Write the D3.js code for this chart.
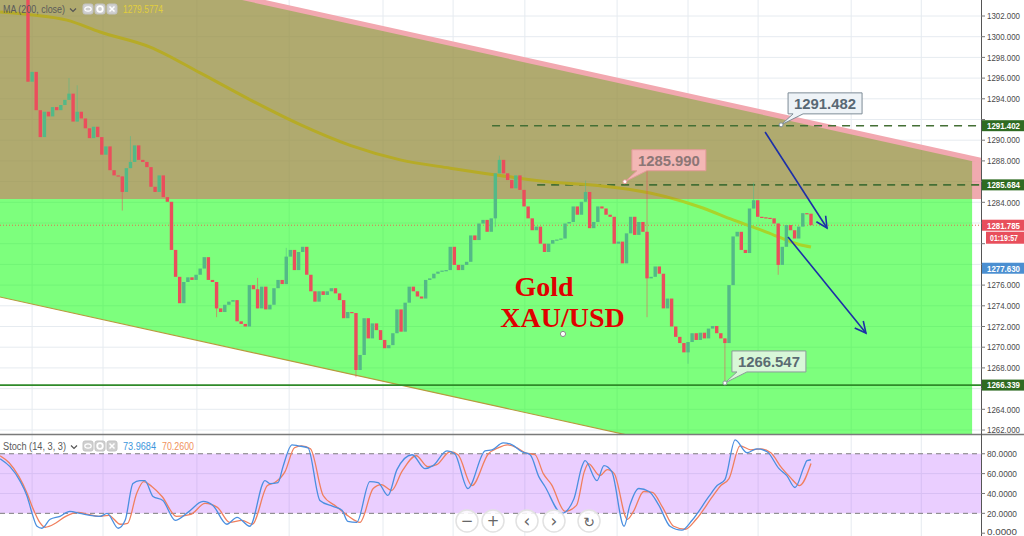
<!DOCTYPE html>
<html><head><meta charset="utf-8">
<script src="https://cdn.jsdelivr.net/npm/d3@7"></script>
<style>html,body{margin:0;padding:0;background:#fff;overflow:hidden}svg{display:block}</style>
</head><body><svg id="c" width="1024" height="536"></svg>
<script>
// ---------------- DATA ----------------
const firstOpen = 1303.8;
const closes = [
1295.65,1296.6,1292.9,1290.3,1292.75,1292.3,1293.2,1292.9,1293.4,1293.9,
1294.5,1291.8,1292.75,1292.1,1291.15,1290.2,1291.3,1290.3,1288.6,1289.4,
1287.1,1286.6,1286.5,1285.0,1287.3,1287.9,1289.5,1288.1,1287.9,1287.4,
1285.5,1285.0,1286.6,1284.5,1284.05,1279.4,1276.8,1274.25,1276.3,1276.75,
1276.5,1277.0,1277.6,1278.7,1276.5,1276.3,1273.75,1273.4,1274.1,1274.4,
1274.55,1272.5,1272.25,1272.0,1276.0,1275.6,1273.75,1275.85,1273.65,1274.1,
1275.7,1276.5,1276.1,1278.75,1279.4,1277.45,1279.2,1279.7,1277.0,1275.4,
1274.4,1275.4,1275.05,1275.4,1275.7,1275.2,1274.55,1272.8,1273.4,1273.3,
1267.8,1269.25,1272.8,1270.85,1272.3,1271.65,1270.7,1269.9,1270.2,1271.35,
1273.65,1271.5,1274.3,1275.85,1275.4,1274.9,1274.7,1276.5,1276.65,1277.1,
1277.3,1277.4,1277.45,1279.7,1277.95,1277.45,1277.95,1278.25,1280.8,1280.35,
1281.95,1282.3,1281.15,1282.45,1286.8,1288.1,1286.8,1286.15,1285.35,1286.6,
1285.2,1283.6,1282.45,1281.3,1281.65,1280.0,1279.2,1280.0,1280.35,1280.4,
1280.5,1281.95,1282.1,1283.6,1282.8,1284.05,1285.0,1281.5,1282.1,1283.6,
1283.4,1282.8,1282.6,1280.0,1280.2,1278.1,1281.0,1282.6,1280.85,1282.1,
1281.15,1276.65,1276.8,1277.8,1277.1,1273.75,1274.7,1272.0,1271.0,1270.4,
1269.5,1270.5,1271.35,1270.7,1271.4,1270.85,1271.8,1272.05,1271.35,1270.85,
1270.4,1276.0,1280.7,1281.15,1279.4,1279.1,1283.4,1284.2,1282.6,1282.55,
1282.5,1282.45,1281.95,1277.95,1279.7,1281.8,1281.3,1280.5,1281.65,1282.95,
1282.9,1281.785];
// notable wicks: [bar index, high, low] (null = body edge)
const wicks = [[10,1296.0,null],[12,1295.3,null],[25,1290.4,null],[23,null,1283.2],[46,null,1272.9],
[56,1276.7,null],[63,1279.6,null],[80,null,1267.1],[114,null,1281.6],[115,1288.5,null],[136,1286.1,null],
[151,1287.1,1272.9],[161,null,1268.4],[170,null,1266.55],[177,1285.9,null],[183,null,1277.0]];
// MA(200) read points [bar index, price]
const maPoints = [[-6.8,1302.39],[1.2,1302.1],[9.5,1301.6],[17.6,1300.45],[29.8,1299.0],[42.0,1296.5],
[54.2,1293.9],[66.4,1291.5],[78.6,1289.5],[90.8,1288.1],[103.0,1287.3],[115.1,1286.6],[127.3,1285.95],
[139.5,1285.6],[151.7,1284.9],[163.9,1283.55],[172.0,1282.3],[180.3,1281.1],[188.3,1279.9],[191.0,1279.68]];
// Stochastic %K and %D [bar index, value]
const stochK = [[-6.8,75],[-4.4,67],[-2.0,53],[-0.2,37],[1.0,20],[2.2,7],[3.4,5],[5.4,14],[7.8,17],[10.2,22],
[12.7,20],[15.1,18],[17.6,17],[19.3,20],[22.0,5],[23.7,13],[25.6,50],[27.3,53],[28.5,53],[30.5,37],[32.9,33],
[35.9,13],[39.0,21],[42.7,32],[45.1,28],[48.5,9],[51.0,16],[54.1,7],[57.8,53],[59.0,50],[61.0,51],[62.2,67],
[64.4,89],[65.9,88],[68.3,86],[71.2,33],[74.4,27],[76.6,23],[78.0,12],[80.2,11],[83.4,52],[85.4,51],[87.8,38],
[90.0,64],[93.7,79],[96.8,65],[98.8,68],[102.2,83],[104.1,80],[107.3,45],[111.5,83],[113.2,84],[115.9,91],
[118.1,89],[120.5,82],[122.5,79],[124.6,57],[126.1,47],[130.2,20],[133.2,35],[135.1,67],[135.9,73],[138.8,53],
[140.5,68],[142.4,62],[145.4,7],[146.8,28],[149.0,45],[151.5,42],[153.9,28],[156.6,7],[159.5,3],[162.0,13],
[166.1,37],[168.1,48],[170.0,54],[172.5,94],[175.4,81],[177.8,85],[180.3,82],[183.2,65],[185.1,58],[187.1,46],
[189.3,67],[190.0,73],[191.0,73.97]];
const stochD = [[-6.8,78],[-4.6,71],[-2.2,57],[-0.3,41],[1.2,25],[2.7,12],[4.2,6],[6.7,10],[9.2,17],[12.2,21],
[14.7,19],[17.2,17],[19.7,18],[22.5,9],[24.3,10],[26.5,40],[28.2,52],[30.2,47],[32.7,37],[36.2,17],[39.7,19],
[43.2,30],[46.2,26],[49.2,11],[52.2,13],[54.7,9],[58.4,48],[60.2,51],[62.7,62],[65.0,86],[66.7,88],[68.9,85],
[72.0,38],[75.2,27],[78.2,17],[81.0,11],[84.2,45],[86.2,49],[88.7,43],[91.2,62],[94.7,78],[97.5,67],[99.7,69],
[103.0,82],[104.9,79],[108.3,48],[112.3,80],[114.7,86],[116.9,89],[119.3,86],[121.3,81],[123.7,79],[125.7,60],
[127.7,49],[131.0,22],[133.8,28],[135.7,62],[136.7,70],[139.5,58],[141.3,64],[143.0,60],[146.2,14],[147.7,22],
[150.2,42],[152.3,41],[154.8,26],[157.5,7],[160.3,4],[163.0,14],[167.0,37],[169.0,48],[171.0,55],[173.7,88],
[176.3,84],[178.7,85],[181.2,81],[183.8,66],[186.0,56],[188.2,48],[191,70.26]];
const priceTicks = [1262,1264,1266,1268,1270,1272,1274,1276,1278,1280,1282,1284,1286,1288,1290,1292,1294,1296,1298,1300,1302];
const stochTicks = [0,20,40,60,80];
const gridTimes = [1.0,18.3,41.2,63.7,86.6,103.7,121.2,143.7,161.0,178.1,200.8,217.9];
const channelUpper = [[59.0,1303.2],[232.2,1288.07]];
const channelLower = [[-6.83,1274.85],[139.5,1262.1]];
const zoneSplit = 1284.32, greenEnd = 230.3, pinkEnd = 232.5;
const dashedLevels = [[1291.402,113.2],[1285.684,124.2]];
const supportLevel = 1266.339;
const lastPrice = 1281.785;
const badges = [[1291.402,"1291.402","#2f6b22"],[1285.684,"1285.684","#2f6b22"],[1281.785,"1281.785","#e84f5c"],
[1277.630,"1277.630","#4b8fd1"],[1266.339,"1266.339","#2f6b22"]];
const countdown = "01:19:57";
const callouts = [[183.7,1291.482,"1291.482","#eef3f7","#7d8b96","#596874"],
[145.6,1285.990,"1285.990","#f3b7b5","#e29a98","#8c7676"],
[170.0,1266.547,"1266.547","#d8f7d8","#8b9a9a","#5b6b72"]];
const arrows = [[[179.8,1290.79],[194.9,1281.52]],[[185.4,1280.65],[204.4,1271.37]]];
const titleLines = [["Gold",125.9,1274.95],["XAU/USD",130.4,1271.95]];
const titleMarker = [130.5,1271.28];
const maLegend = ["MA (200, close)","1279.5774"];
const stochLegend = ["Stoch (14, 3, 3)","73.9684","70.2600"];
const navButtons = ["−","+","‹","›","↻"];

// ---------------- SCALES ----------------
const svg = d3.select("#c");
const W = 1024, H = 536, plotR = 981, mainB = 434;
const x = d3.scaleLinear().domain([0, closes.length-1]).range([28, 811]);
const y = d3.scaleLinear().domain([1262, 1302]).range([430, 16]);
const ys = d3.scaleLinear().domain([0, 100]).range([533.2, 433.9]);
const lineAt = (pts, i) => pts[0][1] + (i-pts[0][0])*(pts[1][1]-pts[0][1])/(pts[1][0]-pts[0][0]);

const defs = svg.append("defs");
defs.append("clipPath").attr("id","mainClip").append("rect").attr("x",0).attr("y",0).attr("width",plotR).attr("height",mainB);
defs.append("clipPath").attr("id","stClip").append("rect").attr("x",0).attr("y",mainB+1).attr("width",plotR).attr("height",H-mainB);
defs.append("clipPath").attr("id","upClip").append("rect").attr("x",0).attr("y",0).attr("width",plotR).attr("height",y(zoneSplit));
defs.append("clipPath").attr("id","loClip").append("rect").attr("x",0).attr("y",y(zoneSplit)).attr("width",plotR).attr("height",mainB-y(zoneSplit));
defs.append("marker").attr("id","ah").attr("markerUnits","userSpaceOnUse").attr("markerWidth",14).attr("markerHeight",14)
  .attr("viewBox","0 0 14 14").attr("refX",12).attr("refY",7).attr("orient","auto")
  .append("path").attr("d","M1,1.5 L12,7 L1,12.5").attr("fill","none").attr("stroke","#1c2fa8").attr("stroke-width",1.6);

svg.append("rect").attr("width",W).attr("height",H).attr("fill","#fff");

// grid
const grid = svg.append("g");
grid.selectAll(".vg").data(gridTimes).join("line").attr("x1",d=>x(d)).attr("x2",d=>x(d)).attr("y1",0).attr("y2",H)
  .attr("stroke","#e6ebf0").attr("stroke-width",1);
grid.selectAll(".hg").data(priceTicks).join("line").attr("x1",0).attr("x2",plotR).attr("y1",d=>y(d)).attr("y2",d=>y(d))
  .attr("stroke","#e6ebf0");
grid.selectAll(".sg").data([40,60]).join("line").attr("x1",0).attr("x2",plotR).attr("y1",d=>ys(d)).attr("y2",d=>ys(d))
  .attr("stroke","#e6ebf0");

// main pane drawings
const main = svg.append("g").attr("clip-path","url(#mainClip)");
const iS = -12;
const poly = pts => pts.map(p=>[x(p[0]),y(p[1])].join(",")).join(" ");
main.append("polygon").attr("points", poly([[iS,lineAt(channelUpper,iS)],[greenEnd,lineAt(channelUpper,greenEnd)],
  [greenEnd,lineAt(channelLower,greenEnd)],[iS,lineAt(channelLower,iS)]])).attr("fill","rgba(0,255,0,0.51)");
main.append("polygon").attr("points", poly([[iS,lineAt(channelUpper,iS)],[pinkEnd,lineAt(channelUpper,pinkEnd)],
  [pinkEnd,zoneSplit],[iS,zoneSplit]])).attr("fill","rgba(226,89,98,0.51)");
main.append("line").attr("x1",x(iS)).attr("y1",y(lineAt(channelUpper,iS))).attr("x2",x(pinkEnd)).attr("y2",y(lineAt(channelUpper,pinkEnd)))
  .attr("stroke","#f2a8b0").attr("stroke-width",5);
main.append("line").attr("x1",x(iS)).attr("y1",y(lineAt(channelLower,iS))).attr("x2",x(160)).attr("y2",y(lineAt(channelLower,160)))
  .attr("stroke","#b79a3c").attr("stroke-width",1.2);

// levels
main.selectAll(".dl").data(dashedLevels).join("line").attr("x1",d=>x(d[1])).attr("x2",plotR).attr("y1",d=>y(d[0])).attr("y2",d=>y(d[0]))
  .attr("stroke","#446f35").attr("stroke-width",1.6).attr("stroke-dasharray","8,6");
main.append("line").attr("x1",0).attr("x2",plotR).attr("y1",y(supportLevel)).attr("y2",y(supportLevel)).attr("stroke","#2f8a2a").attr("stroke-width",1.6);
main.append("line").attr("x1",0).attr("x2",plotR).attr("y1",y(lastPrice)).attr("y2",y(lastPrice))
  .attr("stroke","#e0704f").attr("stroke-width",1).attr("stroke-dasharray","1,2");

// MA line
const maLine = d3.line().x(d=>x(d[0])).y(d=>y(d[1])).curve(d3.curveMonotoneX);
main.append("path").attr("d",maLine(maPoints)).attr("fill","none").attr("stroke","#b6ab27").attr("stroke-width",3).attr("clip-path","url(#upClip)");
main.append("path").attr("d",maLine(maPoints)).attr("fill","none").attr("stroke","#a9d42a").attr("stroke-width",3).attr("clip-path","url(#loClip)");

// candles
const bars = closes.map((c,i)=>({i, o: i===0?firstOpen:closes[i-1], c}));
const up = "#53b987", dn = "#eb4d5c";
main.selectAll(".wk").data(wicks).join("line")
  .attr("x1",d=>x(d[0])).attr("x2",d=>x(d[0]))
  .attr("y1",d=>{const b=bars[d[0]]; return y(d[1]!==null?d[1]:Math.max(b.o,b.c));})
  .attr("y2",d=>{const b=bars[d[0]]; return y(d[2]!==null?d[2]:Math.min(b.o,b.c));})
  .attr("stroke",d=>{const b=bars[d[0]]; return b.c>=b.o?up:dn;}).attr("stroke-opacity",0.55).attr("stroke-width",1);
main.selectAll(".cd").data(bars).join("rect")
  .attr("x",d=>x(d.i)-1.7).attr("width",3.4)
  .attr("y",d=>y(Math.max(d.o,d.c)))
  .attr("height",d=>Math.max(1.2, y(Math.min(d.o,d.c))-y(Math.max(d.o,d.c))))
  .attr("fill",d=>d.c>=d.o?up:dn);

// title text
main.selectAll(".tt").data(titleLines).join("text").attr("x",d=>x(d[1])).attr("y",d=>y(d[2]))
  .attr("text-anchor","middle").attr("font-family","Liberation Serif, Times New Roman, serif").attr("font-weight","bold")
  .attr("font-size",28).attr("fill","#e00000").text(d=>d[0]);
main.append("circle").attr("cx",x(titleMarker[0])).attr("cy",y(titleMarker[1])).attr("r",2.6).attr("fill","#fff").attr("stroke","#8a8a8a");

// arrows
main.selectAll(".ar").data(arrows).join("line").attr("x1",d=>x(d[0][0])).attr("y1",d=>y(d[0][1])).attr("x2",d=>x(d[1][0])).attr("y2",d=>y(d[1][1]))
  .attr("stroke","#1c2fa8").attr("stroke-width",1.6).attr("marker-end","url(#ah)");

// callouts
callouts.forEach(c=>{
  const ax=x(c[0]), ay=y(c[1]), bx=ax+7, by=ay-32, w=74, h=21;
  const g=main.append("g");
  g.append("path").attr("d",`M${bx},${by} H${bx+w} V${by+h} H${bx+15} L${ax},${ay} L${bx+5},${by+h} H${bx} Z`)
    .attr("fill",c[3]).attr("stroke",c[4]).attr("stroke-width",1);
  g.append("circle").attr("cx",ax).attr("cy",ay).attr("r",2).attr("fill","#fff").attr("stroke",c[4]);
  g.append("text").attr("x",bx+w/2).attr("y",by+16).attr("text-anchor","middle").attr("font-family","Liberation Sans, Arial, sans-serif")
    .attr("font-weight","bold").attr("font-size",15).attr("fill",c[5]).attr("textLength",62).attr("lengthAdjust","spacingAndGlyphs").text(c[2]);
});

// legend MA
const lf = "Liberation Sans, Arial, sans-serif";
function icons(g, yTop){
  [83,95,107].forEach((ix,k)=>{
    g.append("rect").attr("x",ix).attr("y",yTop).attr("width",10).attr("height",10).attr("rx",2).attr("fill","#cfcfcf").attr("stroke","#c2c2c2");
    if(k===0){g.append("ellipse").attr("cx",ix+5).attr("cy",yTop+5).attr("rx",3.2).attr("ry",2.2).attr("fill","none").attr("stroke","#fff").attr("stroke-width",1.2);}
    if(k===1){g.append("circle").attr("cx",ix+5).attr("cy",yTop+5).attr("r",2.8).attr("fill","none").attr("stroke","#fff").attr("stroke-width",1.8);}
    if(k===2){g.append("path").attr("d",`M${ix+2.5},${yTop+2.5}L${ix+7.5},${yTop+7.5}M${ix+7.5},${yTop+2.5}L${ix+2.5},${yTop+7.5}`).attr("stroke","#fff").attr("stroke-width",1.5);}
  });
}
const lg = svg.append("g");
lg.append("text").attr("x",3).attr("y",13).attr("font-family",lf).attr("font-size",10).attr("fill","#5a5a5a").attr("textLength",62).attr("lengthAdjust","spacingAndGlyphs").text(maLegend[0]);
lg.append("path").attr("d","M70,8.5 L73,11.5 L76,8.5").attr("fill","none").attr("stroke","#555").attr("stroke-width",1.2);
icons(lg,4);
lg.append("text").attr("x",123).attr("y",13).attr("font-family",lf).attr("font-size",10).attr("fill","#e2cf3c").attr("textLength",40).attr("lengthAdjust","spacingAndGlyphs").text(maLegend[1]);

// separator & axis
svg.append("line").attr("x1",0).attr("x2",W).attr("y1",mainB+0.5).attr("y2",mainB+0.5).attr("stroke","#7a7a7a").attr("stroke-width",1.5);
svg.append("line").attr("x1",plotR+0.5).attr("x2",plotR+0.5).attr("y1",0).attr("y2",H).attr("stroke","#555").attr("stroke-width",1);
const ax = svg.append("g");
const badgeYs = badges.map(b=>y(b[0])).concat([y(lastPrice)+12.5]);
const visibleTicks = priceTicks.filter(p=>badgeYs.every(by=>Math.abs(y(p)-by)>9.5));
ax.selectAll(".tk").data(priceTicks).join("line").attr("x1",plotR).attr("x2",plotR+4).attr("y1",d=>y(d)).attr("y2",d=>y(d)).attr("stroke","#777");
ax.selectAll(".tl").data(visibleTicks).join("text").attr("x",987).attr("y",d=>y(d)+3.2).attr("font-family",lf).attr("font-size",9)
  .attr("fill","#4a4a4a").attr("textLength",33).attr("lengthAdjust","spacingAndGlyphs").text(d=>d3.format(".3f")(d));

// badges
badges.forEach(b=>{
  const cy=y(b[0]);
  ax.append("rect").attr("x",plotR+1).attr("y",cy-5.5).attr("width",W-plotR-1).attr("height",11).attr("fill",b[2]);
  ax.append("text").attr("x",987).attr("y",cy+3.3).attr("font-family",lf).attr("font-weight","bold").attr("font-size",9).attr("fill","#fff")
    .attr("textLength",33).attr("lengthAdjust","spacingAndGlyphs").text(b[1]);
});
{
  const cy=y(lastPrice)+12.5;
  ax.append("rect").attr("x",986).attr("y",cy-6).attr("width",W-986).attr("height",12).attr("fill","#e84f5c");
  ax.append("text").attr("x",990).attr("y",cy+3).attr("font-family",lf).attr("font-weight","bold").attr("font-size",8.5).attr("fill","#fff")
    .attr("textLength",28).attr("lengthAdjust","spacingAndGlyphs").text(countdown);
}

// stochastic pane
const st = svg.append("g").attr("clip-path","url(#stClip)");
st.append("rect").attr("x",0).attr("width",plotR).attr("y",ys(80)).attr("height",ys(20)-ys(80)).attr("fill","rgba(180,80,255,0.28)");
st.selectAll(".sd").data([80,20]).join("line").attr("x1",0).attr("x2",plotR).attr("y1",d=>ys(d)).attr("y2",d=>ys(d))
  .attr("stroke","#7d7d7d").attr("stroke-width",1).attr("stroke-dasharray","5,4");
const sLine = d3.line().x(d=>x(d[0])).y(d=>ys(d[1])).curve(d3.curveMonotoneX);
st.append("path").attr("d",sLine(stochD)).attr("fill","none").attr("stroke","#f07f5e").attr("stroke-width",1.3);
st.append("path").attr("d",sLine(stochK)).attr("fill","none").attr("stroke","#4a8fe0").attr("stroke-width",1.3);
ax.selectAll(".stl").data(stochTicks).join("text").attr("x",987).attr("y",d=>Math.min(ys(d)+3.2,534.5)).attr("font-family",lf).attr("font-size",9)
  .attr("fill","#4a4a4a").attr("textLength",30).attr("lengthAdjust","spacingAndGlyphs").text(d=>d3.format(".4f")(d));
ax.selectAll(".stk").data(stochTicks).join("line").attr("x1",plotR).attr("x2",plotR+4).attr("y1",d=>ys(d)).attr("y2",d=>ys(d)).attr("stroke","#777");

// stoch legend
const sl = svg.append("g");
sl.append("text").attr("x",3).attr("y",450).attr("font-family",lf).attr("font-size",10).attr("fill","#5a5a5a").attr("textLength",63).attr("lengthAdjust","spacingAndGlyphs").text(stochLegend[0]);
sl.append("path").attr("d","M71,445.5 L74,448.5 L77,445.5").attr("fill","none").attr("stroke","#555").attr("stroke-width",1.2);
icons(sl,441);
sl.append("text").attr("x",123).attr("y",450).attr("font-family",lf).attr("font-size",10).attr("fill","#3d96dc").attr("textLength",33).attr("lengthAdjust","spacingAndGlyphs").text(stochLegend[1]);
sl.append("text").attr("x",162).attr("y",450).attr("font-family",lf).attr("font-size",10).attr("fill","#f0925c").attr("textLength",32).attr("lengthAdjust","spacingAndGlyphs").text(stochLegend[2]);

// navigation buttons
const navX = [467,493,527,554,589];
const nv = svg.append("g");
navButtons.forEach((s,k)=>{
  nv.append("circle").attr("cx",navX[k]).attr("cy",521).attr("r",11).attr("fill","rgba(255,255,255,0.85)").attr("stroke","#e2e2e2").attr("stroke-width",1.5);
  nv.append("text").attr("x",navX[k]).attr("y",k<2?526:527).attr("text-anchor","middle").attr("font-family","DejaVu Sans, sans-serif")
    .attr("font-size",k===4?14:(k<2?15:17)).attr("fill","#666").text(s);
});
</script></body></html>
